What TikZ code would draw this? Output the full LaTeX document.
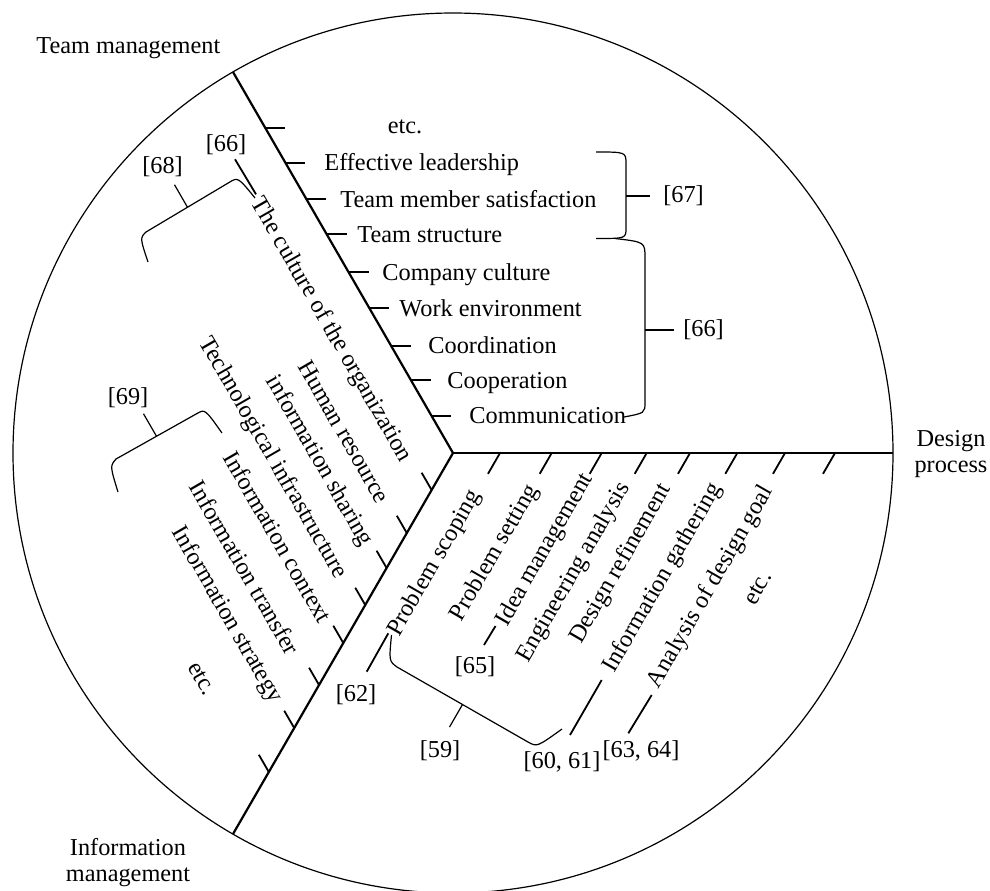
\documentclass[tikz,border=0pt]{standalone}
\usepackage{fontspec}
\setmainfont{Liberation Serif}
\usetikzlibrary{calc}
\tikzset{
  lbl/.style={font=\fontsize{12.15}{13}\selectfont, inner sep=0pt},
  radiusline/.style={line width=1.1pt},
  tickmark/.style={line width=0.9pt},
  bracket/.style={line width=0.6pt},
  refline/.style={line width=0.9pt}
}
\begin{document}
\begin{tikzpicture}[x=0.5pt,y=-0.5pt]
\useasboundingbox (0,0) rectangle (990,890);
\clip (0,0) rectangle (990,890);
% circle and radii
\coordinate (O) at (453,453);
\coordinate (R1) at (233,72);
\coordinate (R2) at (893,453);
\coordinate (R3) at (233,834);
\draw[line width=0.6pt] (O) circle[radius=440];
\draw[radiusline] (O) -- (R1);
\draw[radiusline] (O) -- (R2);
\draw[radiusline] (O) -- (R3);

% ticks, upper sector
\foreach \y [count=\i] in {127.7,162.7,199,234,272,308,345.7,380,415.7}{
  \pgfmathsetmacro\xr{453-(453-\y)/1.7320508}
  \draw[tickmark] (\xr,\y) coordinate (ut\i) -- ++(20,0) coordinate (ute\i);
}
% ticks, lower-right sector
\foreach \x [count=\i] in {500,551.7,601.7,646.7,690,737.3,785,835}{
  \draw[tickmark] (\x,453) coordinate (dt\i) -- ++(-12,20.8) coordinate (dte\i);
}
% ticks, left sector
\foreach \y [count=\i] in {490,533,568,605,643,685,728,772}{
  \pgfmathsetmacro\xr{453-(\y-453)/1.7320508}
  \draw[tickmark] (\xr,\y) coordinate (lt\i) -- ++(-10,-17.3) coordinate (lte\i);
}

% sector titles
\node[lbl, anchor=base] (tm) at (128.3,53.3) {Team management};
\node[lbl, align=center] (dp) at (951,454.5) {Design\\process};
\node[lbl, align=center] (im) at (128,863) {Information\\management};

% upper sector items
\node[lbl, anchor=base] (u0) at (405,133) {etc.};
\node[lbl, anchor=base west] (u1) at (324,170.7) {Effective leadership};
\node[lbl, anchor=base west] (u2) at (340,207) {Team member satisfaction};
\node[lbl, anchor=base west] (u3) at (357,242) {Team structure};
\node[lbl, anchor=base west] (u4) at (382,280) {Company culture};
\node[lbl, anchor=base west] (u5) at (399,316) {Work environment};
\node[lbl, anchor=base west] (u6) at (428,353.7) {Coordination};
\node[lbl, anchor=base west] (u7) at (447,388) {Cooperation};
\node[lbl, anchor=base west] (u8) at (469,423.7) {Communication};

% lower-right sector items
\node[lbl, rotate=60] (d1) at (435,563.5) {Problem scoping};
\node[lbl, rotate=60] (d2) at (495,553) {Problem setting};
\node[lbl, rotate=60] (d3) at (545,550) {Idea management};
\node[lbl, rotate=60] (d4) at (574,572.5) {Engineering analysis};
\node[lbl, rotate=60] (d5) at (621,564) {Design refinement};
\node[lbl, rotate=60] (d6) at (663,578) {Information gathering};
\node[lbl, rotate=60] (d7) at (711,587) {Analysis of design goal};
\node[lbl, rotate=60] (d8) at (758,588) {etc.};

% left sector items
\node[lbl, rotate=-60] (l1) at (331,330) {The culture of the organization};
\node[lbl, rotate=-60] (l2) at (344,431.7) {Human resource};
\node[lbl, rotate=-60] (l3) at (319,461) {information sharing};
\node[lbl, rotate=-60] (l4) at (272.5,458) {Technological infrastructure};
\node[lbl, rotate=-60] (l5) at (278,536.7) {Information context};
\node[lbl, rotate=-60] (l6) at (245,567.5) {Information transfer};
\node[lbl, rotate=-60] (l7) at (226.7,615) {Information strategy};
\node[lbl, rotate=-60] (l8) at (201.7,679) {etc.};

% reference labels
\node[lbl] (r67) at (683.5,196) {[67]};
\node[lbl] (r66b) at (703.5,330) {[66]};
\node[lbl] (r66a) at (226,145) {[66]};
\node[lbl] (r68) at (162.5,167) {[68]};
\node[lbl] (r69) at (128,398) {[69]};
\node[lbl] (r62) at (356,695) {[62]};
\node[lbl] (r65) at (475,667) {[65]};
\node[lbl] (r59) at (440,751) {[59]};
\node[lbl] (r6061) at (562,762) {[60, 61]};
\node[lbl] (r6364) at (641,751) {[63, 64]};

% reference lines
\coordinate (a66s) at (235,159.3);  \coordinate (a66e) at (256,194.3);
\coordinate (a62s) at (366.7,671.7); \coordinate (a62e) at (388.3,633.3);
\coordinate (a65s) at (484,645);    \coordinate (a65e) at (495.5,626);
\coordinate (a60s) at (570,735);    \coordinate (a60e) at (601.7,680);
\coordinate (a63s) at (628.3,733.3); \coordinate (a63e) at (651.7,695);
\draw[refline] (a66s) -- (a66e);
\draw[refline] (a62s) -- (a62e);
\draw[refline] (a65s) -- (a65e);
\draw[refline] (a60s) -- (a60e);
\draw[refline] (a63s) -- (a63e);

% bracket [67]
\coordinate (b67m) at (626,196);
\draw[bracket] (596,152) .. controls (626,152) .. (626,164) -- (626,228) .. controls (626,238.5) .. (596,238.5);
\draw[bracket] (b67m) -- (650,196);
% bracket [66] right
\coordinate (b66m) at (645,330);
\draw[bracket] (615,238.5) .. controls (645,242) .. (645,258) -- (645,402) .. controls (645,413) .. (624,417);
\draw[bracket] (b66m) -- (674,330);
% bracket [68]
\coordinate (b68a) at (146,232); \coordinate (b68b) at (229,182.5);
\draw[bracket] (148,262) .. controls (140,238) .. (b68a) -- (b68b) .. controls (238,177) .. (255,198);
\draw[bracket] ($(b68a)!0.5!(b68b)$) -- ++(-13,-22.5);
% bracket [69]
\coordinate (b69a) at (116,459); \coordinate (b69b) at (197,413.5);
\draw[bracket] (118,492) .. controls (110,466) .. (b69a) -- (b69b) .. controls (205,409) .. (222,433);
\draw[bracket] ($(b69a)!0.5!(b69b)$) -- ++(-13,-22.5);
% bracket [59]
\coordinate (b59a) at (397,667); \coordinate (b59b) at (528,742);
\draw[bracket] (391.5,635) .. controls (389,661) .. (b59a) -- (b59b) .. controls (537,747) .. (562,729);
\draw[bracket] ($(b59a)!0.5!(b59b)$) -- ++(-13,22.5);
\end{tikzpicture}
\end{document}
